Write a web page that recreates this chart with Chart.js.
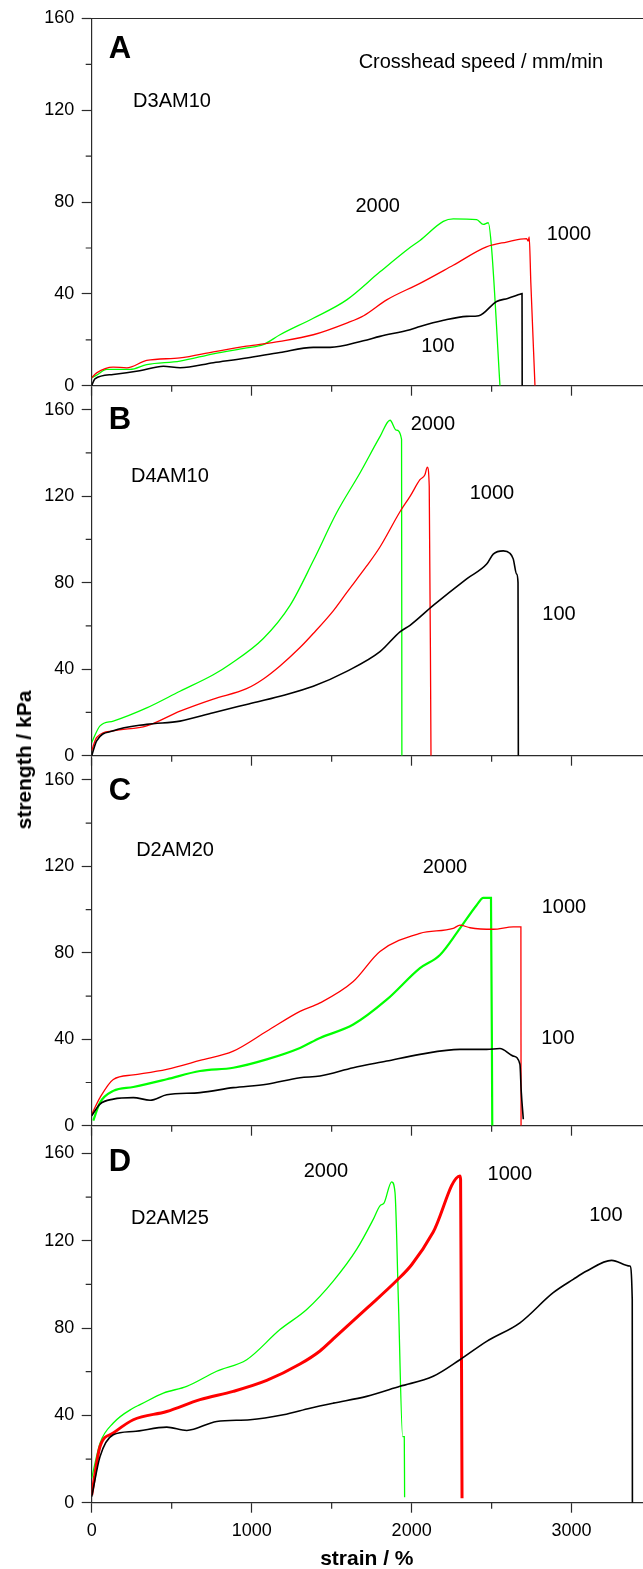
<!DOCTYPE html>
<html>
<head>
<meta charset="utf-8">
<script src="https://cdn.jsdelivr.net/npm/chart.js@4.4.1/dist/chart.umd.min.js"></script>
<style>
  body { margin: 0; background: #fff; width: 643px; height: 1569px; position: relative; overflow: hidden;
         font-family: "Liberation Sans", Arial, sans-serif; }
  canvas { position: absolute; left: 0; }
  #ytitle { position: absolute; left: 24px; top: 760px; transform: translate(-50%, -50%) rotate(-90deg);
            font-weight: bold; font-size: 21px; white-space: nowrap; color: #000; }
</style>
</head>
<body>
<canvas id="panelA" width="643" height="404" style="top:0px"></canvas>
<canvas id="panelB" width="643" height="406" style="top:368px"></canvas>
<canvas id="panelC" width="643" height="406" style="top:738px"></canvas>
<canvas id="panelD" width="643" height="461" style="top:1108px"></canvas>
<div id="ytitle">strength / kPa</div>
<script>
// tick values
const strainTicks = [0, 1000, 2000, 3000];
const strainMinor = [500, 1500, 2500];
const strengthTicks = [0, 40, 80, 120, 160];
const strengthMinor = [20, 60, 100, 140];

// crosshead speed (mm/min) of each curve
const speeds = ['100', '1000', '2000'];

// [strain %, strength kPa]
// A  D3AM10
const a100 = [[0,0],[20,3],[134,4.9],[300,6.5],[448,8.5],[552,7.8],[760,10],[968,12.1],[1177,14.5],[1385,16.7],[1490,16.7],
  [1698,19.6],[1802,21.5],[1990,24.4],[2052,25.8],[2200,28.5],[2344,30.2],[2420,30.5],[2531,36.7],[2600,38],[2677,39.8],[2690,40.1],[2691,0]];
const a1000 = [[0,3.5],[31,5.6],[134,8.1],[219,7.8],[344,11],[552,12.1],[760,14.7],[968,17.2],[1177,19.3],[1385,22.2],[1594,27.3],
  [1700,30.5],[1844,37.4],[2052,44.6],[2260,52.5],[2468,60.5],[2594,62.6],[2719,64.1],[2728,63],[2735,64.8],[2745,45],[2771,0]];
const a2000 = [[0,3.5],[31,4.6],[94,7.1],[240,7.1],[344,9.2],[552,10.7],[760,13.9],[968,16.5],[1072,17.9],[1177,22.2],[1385,29.4],
  [1594,37.4],[1802,49.6],[1990,60.2],[2052,63.3],[2198,71.6],[2260,72.7],[2406,72.4],[2448,70.3],[2479,71],[2500,59.7],[2552,0]];

// B  D4AM10
const b100 = [[0,0],[31,6.9],[135,11.5],[344,14.5],[552,16],[760,19.9],[968,23.7],[1177,27.5],[1385,32.1],[1594,39],[1802,48.1],
  [1927,57.3],[1990,60.3],[2135,69.5],[2344,81.8],[2469,88.6],[2510,93.2],[2573,94.7],[2614,93.6],[2635,91],[2656,84],[2665,80],[2667,0]];
const b1000 = [[0,2.3],[31,8.4],[135,11.5],[344,13.8],[552,20.6],[760,26.2],[968,31],[1073,35.5],[1177,41.5],[1302,50],[1385,56.5],
  [1510,67],[1594,75.4],[1718,87.6],[1802,96.5],[1927,112.8],[1990,119.9],[2052,127.6],[2083,129.9],[2098,133.4],[2110,124.5],[2121,0]];
const b2000 = [[0,6.1],[52,13.8],[135,16],[344,22.1],[552,29.8],[760,37.4],[865,42.3],[1073,54.2],[1240,69.5],[1385,90.1],[1531,112.3],
  [1677,130.7],[1802,147.5],[1865,155.1],[1904,150.5],[1937,146.3],[1939,0]];

// C  D2AM20
const c100 = [[0,4.6],[52,10],[135,12.3],[260,13],[365,11.8],[469,14.3],[677,15.3],[885,17.6],[1094,19.2],[1302,22.2],[1427,23],
  [1635,26.8],[1844,29.9],[2052,33],[2302,35.3],[2469,35.3],[2552,35.7],[2635,32.2],[2677,28.4],[2685,16],[2698,3]];
const c1000 = [[0,5.3],[52,13],[135,21.4],[260,23.5],[469,26.1],[677,30.2],[885,34.5],[1094,43.7],[1302,52.9],[1427,56.8],[1635,66.7],
  [1802,80.6],[2052,89],[2260,91.3],[2302,92.8],[2365,91.6],[2510,90.9],[2635,92],[2683,92],[2684,0]];
const c2000 = [[10,2.4],[52,10.7],[135,16.1],[260,17.9],[469,21.5],[677,25.3],[885,26.8],[1094,30.7],[1302,36],[1427,40.6],[1635,46.8],
  [1844,58.3],[2052,72.9],[2177,79],[2302,91.3],[2406,102],[2448,105.4],[2496,105.4],[2504,0]];

// D  D2AM25
const d100 = [[0,2.8],[52,21.1],[135,31.1],[260,32.6],[469,34.6],[594,33.1],[781,37.2],[990,38],[1198,40.3],[1365,43.3],[1510,45.6],
  [1719,48.7],[1927,53.3],[2135,57.9],[2302,65.5],[2469,73.9],[2677,82.4],[2885,96.2],[3010,102.3],[3094,106.1],[3250,111],
  [3364,108.4],[3379,93.1],[3380,0]];
const d1000 = [[0,3.5],[52,25.7],[135,31.9],[260,38],[469,41.8],[677,47.2],[885,51],[1094,56],[1302,63.5],[1427,69.5],[1510,75],
  [1719,89],[1910,102],[2000,109],[2135,124],[2302,149.7],[2306,148],[2315,2]];
const d2000 = [[0,11.2],[52,27.3],[135,36.5],[260,43.4],[302,44.9],[448,50.2],[594,53.3],[781,60.2],[969,65.5],[1177,79.3],[1344,88.5],
  [1510,101.5],[1656,116],[1760,129.8],[1802,136],[1827,137.2],[1875,147],[1896,142.1],[1917,93.1],[1944,30.3],[1954,30.3],[1956,2.5]];

const lineColors = ['#000000', '#ff0000', '#00ff00'];
const axisColor = '#2b2b2b';
const FONT = '"Liberation Sans", Arial, sans-serif';

// draws free text (in data units), the minor ticks and the top frame of panel A
const notesPlugin = {
  id: 'notes',
  afterDraw(chart, args, opts) {
    const { ctx, chartArea, scales: { x, y } } = chart;
    ctx.save();
    ctx.strokeStyle = axisColor;
    ctx.lineWidth = 1.2;
    ctx.beginPath();
    strainMinor.forEach(v => {
      const px = x.getPixelForValue(v);
      ctx.moveTo(px, chartArea.bottom);
      ctx.lineTo(px, chartArea.bottom + 6);
    });
    strengthMinor.forEach(v => {
      const py = y.getPixelForValue(v);
      ctx.moveTo(chartArea.left, py);
      ctx.lineTo(chartArea.left - 6, py);
    });
    if (opts.frameTop) {
      ctx.moveTo(chartArea.left, chartArea.top);
      ctx.lineTo(chart.width, chartArea.top);
    }
    ctx.stroke();

    ctx.fillStyle = '#000';
    ctx.textAlign = 'center';
    ctx.textBaseline = 'middle';
    opts.items.forEach(([text, sx, sy, bold]) => {
      ctx.font = bold ? 'bold 31px ' + FONT : '20px ' + FONT;
      ctx.fillText(text, x.getPixelForValue(sx), y.getPixelForValue(sy));
    });
    ctx.restore();
  }
};

function makePanel(id, series, widths, cfg) {
  return new Chart(document.getElementById(id), {
    type: 'line',
    data: {
      datasets: series.map((pts, i) => ({
        label: speeds[i],
        data: pts.map(([sx, sy]) => ({ x: sx, y: sy })),
        borderColor: lineColors[i],
        borderWidth: widths[i],
        pointRadius: 0,
        cubicInterpolationMode: 'monotone',
        fill: false
      }))
    },
    options: {
      responsive: false,
      animation: false,
      events: [],
      layout: { padding: { top: cfg.padTop, right: 1, left: 0, bottom: 0 } },
      plugins: {
        legend: { display: false },
        tooltip: { enabled: false },
        notes: { items: cfg.notes, frameTop: !!cfg.frameTop }
      },
      scales: {
        x: {
          type: 'linear',
          min: 0,
          max: 3440,
          afterBuildTicks: s => { s.ticks = strainTicks.map(v => ({ value: v })); },
          afterFit: s => { s.height = cfg.axisH; },
          border: { display: true, color: axisColor, width: 1.2 },
          grid: { drawOnChartArea: false, drawTicks: true, tickLength: 10, tickColor: axisColor, tickWidth: 1.2 },
          ticks: { display: !!cfg.showX, color: '#000', padding: 8, maxRotation: 0,
                   callback: v => String(v), font: { family: FONT, size: 18 } },
          title: { display: !!cfg.showX, text: 'strain / %', color: '#000',
                   font: { family: FONT, size: 21, weight: 'bold', lineHeight: 0.9 }, padding: { top: 0, bottom: 0 } }
        },
        y: {
          min: 0,
          max: cfg.ymax,
          afterBuildTicks: s => { s.ticks = strengthTicks.map(v => ({ value: v })); },
          afterFit: s => { s.width = 91.7; },
          border: { display: true, color: axisColor, width: 1.2 },
          grid: { drawOnChartArea: false, drawTicks: true, tickLength: 10, tickColor: axisColor, tickWidth: 1.2 },
          ticks: { color: '#000', padding: 7.5, callback: v => String(v), font: { family: FONT, size: 18 } }
        }
      }
    },
    plugins: [notesPlugin]
  });
}

makePanel('panelA', [a100, a1000, a2000], [1.6, 1.3, 1.3], {
  ymax: 160, padTop: 18.5, axisH: 16, frameTop: true,
  notes: [['A', 177, 146.3, true], ['D3AM10', 502, 123.8], ['Crosshead speed / mm/min', 2433, 140.7],
          ['2000', 1788, 77.9], ['1000', 2983, 65.8], ['100', 2164, 17.3]]
});
makePanel('panelB', [b100, b1000, b2000], [1.6, 1.3, 1.3], {
  ymax: 170, padTop: 20, axisH: 15.7,
  notes: [['B', 177, 155.1, true], ['D4AM10', 489, 129], ['2000', 2133, 153.3],
          ['1000', 2502, 121.2], ['100', 2921, 65.3]]
});
makePanel('panelC', [c100, c1000, c2000], [1.6, 1.3, 2.2], {
  ymax: 170, padTop: 20.3, axisH: 15.7,
  notes: [['C', 177, 154.8, true], ['D2AM20', 521, 127.2], ['2000', 2208, 119.4],
          ['1000', 2952, 101], ['100', 2914, 40.2]]
});
makePanel('panelD', [d100, d1000, d2000], [1.6, 3, 1.3], {
  ymax: 171.5, padTop: 20.3, axisH: 66.3, showX: true,
  notes: [['D', 177, 155.9, true], ['D2AM25', 489, 130.3], ['2000', 1464, 151.9],
          ['1000', 2614, 150.4], ['100', 3214, 131.6]]
});
</script>
</body>
</html>
